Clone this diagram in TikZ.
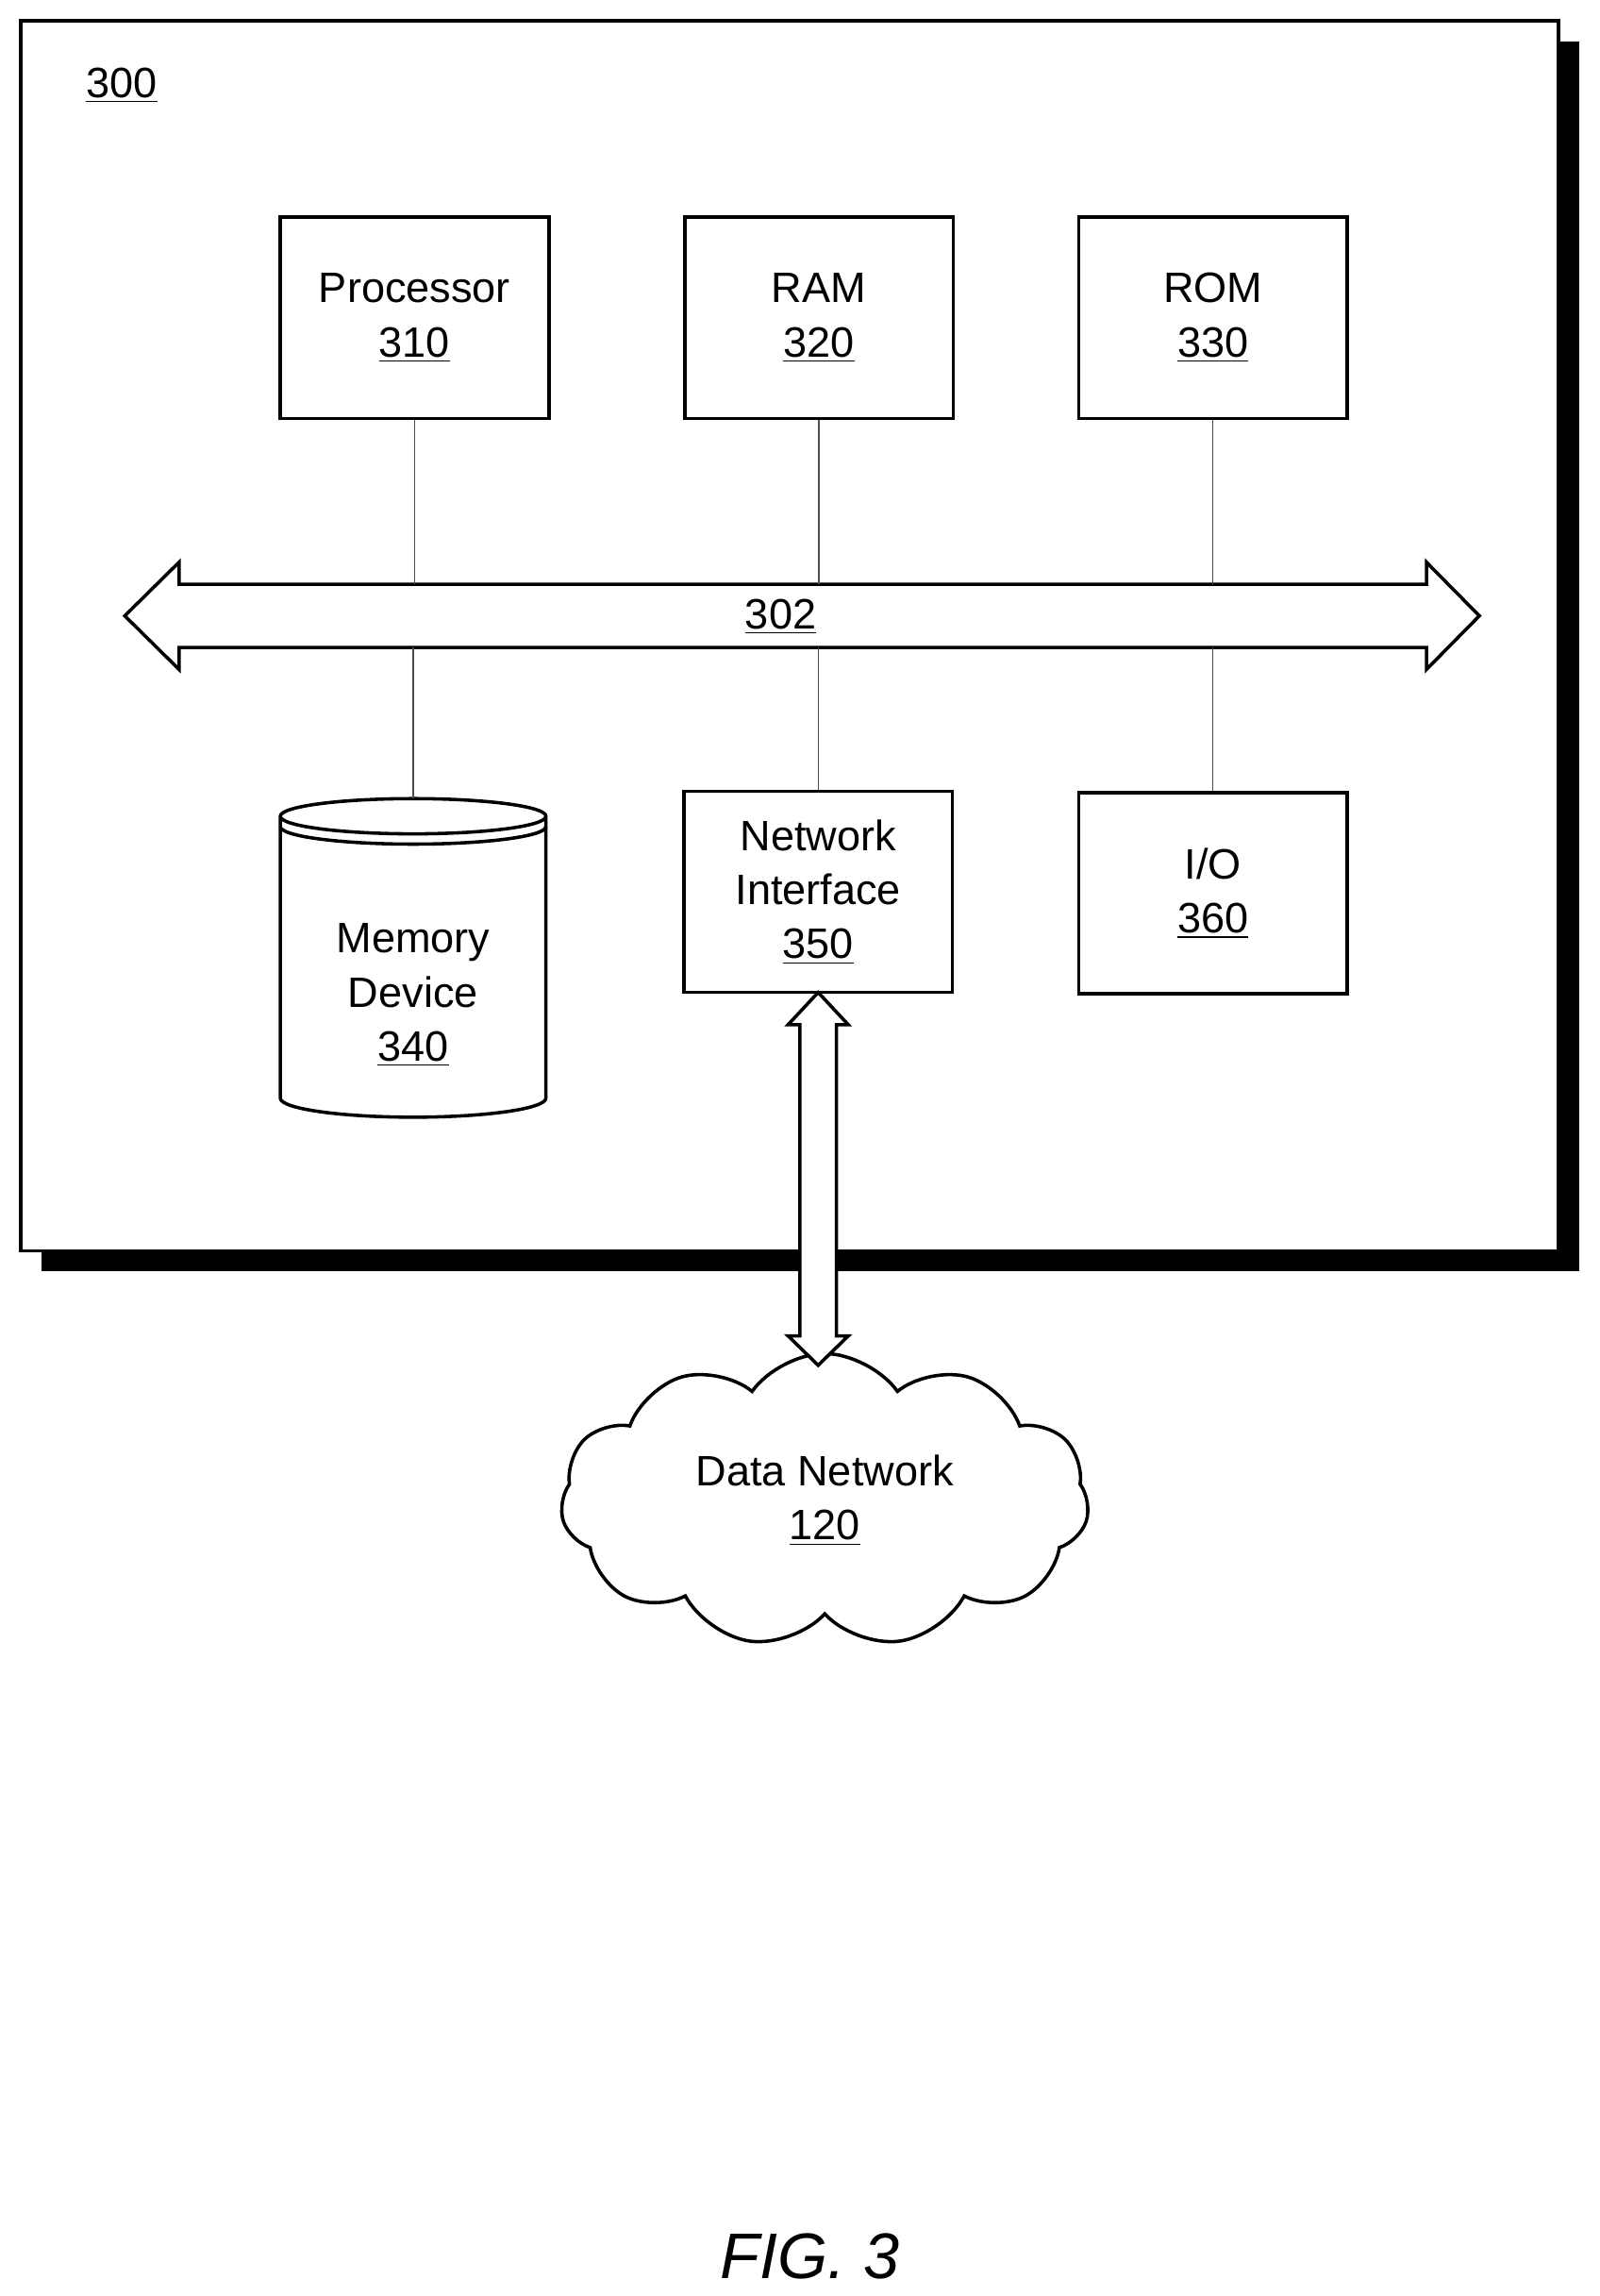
\documentclass[tikz,border=0pt]{standalone}
\usepackage{fontspec}
\setmainfont{Liberation Sans}
\usetikzlibrary{shapes.symbols}
\begin{document}
\begin{tikzpicture}[x=0.02cm,y=-0.02cm,font=\fontsize{16.5}{21}\selectfont,
  box/.style={draw,line width=1.3pt,minimum width=3.66cm,minimum height=2.74cm,align=center},
  wire/.style={draw=black!70,line width=0.5pt}]
\useasboundingbox (0,0) rectangle (1090,1564);

% outer frame with shadow
\fill (28,28) rectangle (1076,866);
\draw[line width=1.3pt,fill=white] (14,14) rectangle (1062,852);
\node at (83,58) {\underline{300}};

\node[box] (proc) at (282.5,216.5) {Processor\\\underline{310}};
\node[box] (ram) at (558,216.5) {RAM\\\underline{320}};
\node[box] (rom) at (826.5,216.5) {ROM\\\underline{330}};
\node[box] (net) at (557.5,607.5) {Network\\Interface\\\underline{350}};
\node[box] (io) at (826.5,608.5) {I/O\\\underline{360}};

% bus
\coordinate (bustop) at (0,398);
\coordinate (busbot) at (0,441);
\draw[line width=1.3pt,fill=white] (85,419.5) -- (122,383) -- (122,398) -- (972,398) -- (972,383)
  -- (1008,419.5) -- (972,456) -- (972,441) -- (122,441) -- (122,456) -- cycle;
\node (bus) at (532,420) {\underline{302}};

% memory device
\draw[line width=1.3pt,fill=white] (191,556) -- (191,748) arc[start angle=180,end angle=360,x radius=90.5,y radius=-13]
  -- (372,556) arc[start angle=0,end angle=360,x radius=90.5,y radius=-12];
\draw[line width=1.3pt] (191,563) arc[start angle=180,end angle=360,x radius=90.5,y radius=-12];
\node[align=center] (mem) at (281.5,678) {Memory\\Device\\\underline{340}};
\coordinate (memtop) at (281.5,544);

\draw[wire] (proc.south) -- (proc.south |- bustop);
\draw[wire] (ram.south) -- (ram.south |- bustop);
\draw[wire] (rom.south) -- (rom.south |- bustop);
\draw[wire] (memtop) -- (memtop |- busbot);
\draw[wire] (net.north) -- (net.north |- busbot);
\draw[wire] (io.north) -- (io.north |- busbot);

% data network
\node[cloud,draw,line width=1.3pt,cloud puffs=11,cloud puff arc=110,aspect=1.9,
  minimum width=7.2cm,minimum height=4cm,align=center] (cloud) at (562,1022) {Data Network\\\underline{120}};

% link
\draw[line width=1.3pt,fill=white] (557.5,676) -- (578,698) -- (570,698) -- (570,910) -- (578,910)
  -- (557.5,930) -- (537,910) -- (545,910) -- (545,698) -- (537,698) -- cycle;

\node[font=\fontsize{25}{30}\selectfont\itshape] (fig) at (552,1537) {FIG. 3};
\end{tikzpicture}
\end{document}
